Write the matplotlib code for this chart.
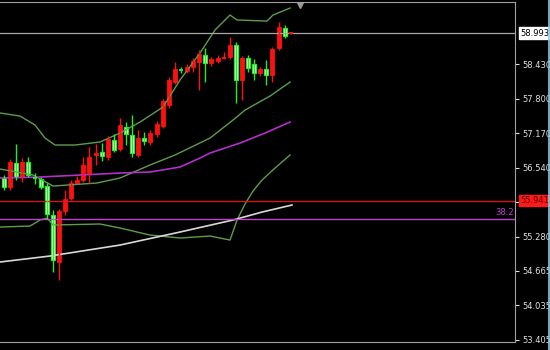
#!/usr/bin/env python3
"""MT4-style candlestick chart with Bollinger bands, two MAs and level lines."""

import matplotlib
matplotlib.use("Agg")
import matplotlib.pyplot as plt

# OHLC per bar (red = bullish, green/white = bearish)
opens = [56.354, 56.190, 56.627, 56.372, 56.646, 56.360, 56.336, 56.208, 55.680, 54.824,
         55.753, 55.990, 56.263, 56.317, 56.445, 56.773, 56.828, 56.737, 57.046, 56.882,
         57.283, 57.137, 56.773, 57.082, 57.010, 57.155, 57.301, 57.683, 58.103, 58.330,
         58.303, 58.376, 58.467, 58.594, 58.449, 58.485, 58.540, 58.558, 58.776, 58.139,
         58.540, 58.430, 58.266, 58.339, 58.230, 58.722, 59.086, 58.990]
highs = [56.408, 56.700, 56.973, 56.718, 56.737, 56.445, 56.372, 56.263, 55.771, 55.789,
         56.135, 56.317, 56.390, 56.737, 56.919, 56.973, 56.991, 57.119, 57.155, 57.447,
         57.374, 57.501, 57.228, 57.192, 57.228, 57.392, 57.793, 58.193, 58.467, 58.376,
         58.430, 58.540, 58.685, 58.722, 58.558, 58.594, 58.649, 58.922, 58.831, 58.576,
         58.594, 58.521, 58.376, 58.503, 58.740, 59.195, 59.141, 59.005]
lows = [56.135, 56.135, 56.317, 56.281, 56.372, 56.245, 56.153, 55.607, 54.642, 54.496,
        55.680, 55.953, 56.245, 56.281, 56.263, 56.590, 56.664, 56.682, 56.828, 56.846,
        56.955, 56.737, 56.737, 56.955, 56.955, 57.100, 57.265, 57.629, 58.066, 58.266,
        58.266, 58.285, 57.957, 58.103, 58.394, 58.449, 58.521, 58.521, 57.720, 57.775,
        58.285, 58.139, 58.212, 58.048, 58.103, 58.685, 58.904, 58.980]
closes = [56.190, 56.646, 56.372, 56.646, 56.408, 56.345, 56.190, 55.698, 54.860, 55.753,
          55.971, 56.263, 56.317, 56.590, 56.737, 56.810, 56.755, 57.064, 56.864, 57.319,
          57.155, 56.810, 57.082, 57.028, 57.173, 57.338, 57.756, 58.139, 58.340, 58.310,
          58.376, 58.485, 58.613, 58.449, 58.521, 58.540, 58.558, 58.776, 58.139, 58.540,
          58.358, 58.266, 58.339, 58.230, 58.704, 59.104, 58.940, 58.993]

# Bollinger bands (bar position, price)
bb_upper_x = [-0.66, 2.62, 5.08, 6.72, 8.36, 11.64, 15.74, 19.02, 22.30, 26.07,
              28.85, 32.13, 34.59, 37.05, 38.20, 43.11, 44.10, 46.89]
bb_upper = [57.538, 57.483, 57.319, 57.082, 56.955, 56.955, 57.010, 57.173, 57.374, 57.647,
            58.139, 58.631, 59.050, 59.323, 59.232, 59.213, 59.323, 59.450]
bb_mid_x = [-0.66, 4.75, 8.03, 15.25, 19.02, 23.93, 28.03, 33.77, 37.54, 39.51, 43.61, 46.89]
bb_mid = [56.518, 56.409, 56.208, 56.263, 56.354, 56.591, 56.773, 57.082, 57.410, 57.592,
          57.847, 58.102]
bb_lower_x = [-0.66, 4.26, 5.90, 7.05, 8.03, 15.74, 19.02, 23.93, 28.85, 33.77,
              37.05, 38.20, 39.51, 40.82, 42.30, 44.43, 46.89]
bb_lower = [55.461, 55.479, 55.589, 55.625, 55.498, 55.516, 55.443, 55.315, 55.261, 55.297,
            55.224, 55.589, 55.880, 56.117, 56.317, 56.536, 56.773]

# moving averages
ma_fast_x = [-0.66, 5.90, 12.46, 19.02, 23.93, 28.85, 32.13, 33.77, 38.69, 42.79, 46.89]
ma_fast = [56.354, 56.372, 56.408, 56.445, 56.463, 56.554, 56.718, 56.809, 56.991, 57.173, 57.374]
ma_slow_x = [-0.66, 7.54, 19.02, 28.85, 37.54, 42.30, 47.21]
ma_slow = [54.824, 54.933, 55.133, 55.370, 55.589, 55.734, 55.862]

# levels
bid_level = 58.993
red_level = 55.941
fib_level = 55.607
fib_label = "38.2"

y_ticks = [58.430, 57.800, 57.170, 56.540, 55.910, 55.280, 54.665, 54.035, 53.405]
# 55.910 sits under the red level box, so its label is not shown
y_tick_labels = ["58.430", "57.800", "57.170", "56.540", "", "55.280", "54.665", "54.035", "53.405"]

BULL = "#ff1010"
BEAR_EDGE = "#22ee22"
BAND = "#5c9e4a"


def main():
    fig = plt.figure(figsize=(5.5, 3.5), dpi=100, facecolor="black")
    ax = fig.add_axes([0.0, 8 / 350, 515 / 550, 340 / 350])
    ax.set_facecolor("black")

    # indicators first so candles sit on top
    ax.plot(bb_upper_x, bb_upper, color=BAND, lw=1)
    ax.plot(bb_mid_x, bb_mid, color=BAND, lw=1)
    ax.plot(bb_lower_x, bb_lower, color=BAND, lw=1)
    ax.plot(ma_fast_x, ma_fast, color="#b030c8", lw=1.2)
    ax.plot(ma_slow_x, ma_slow, color="#d8d8d8", lw=1.2)

    ax.axhline(bid_level, color="#a8a8a8", lw=0.9)
    ax.axhline(red_level, color="#d01818", lw=1)
    ax.axhline(fib_level, color="#c040d0", lw=1)

    body_w = 0.66
    for i, (o, h, l, c) in enumerate(zip(opens, highs, lows, closes)):
        bull = c >= o
        col = BULL if bull else BEAR_EDGE
        ax.vlines(i, l, h, color=col, lw=1)
        if abs(c - o) < 0.025:
            ax.hlines((o + c) / 2, i - body_w / 2, i + body_w / 2, color=col, lw=1.4)
        elif bull:
            ax.bar(i, c - o, bottom=o, width=body_w, color=BULL, edgecolor=BULL, lw=0.6)
        else:
            ax.bar(i, o - c, bottom=c, width=body_w, color="#f4fff4",
                   edgecolor=BEAR_EDGE, lw=0.9)

    # chart shift marker
    ax.plot([48.5], [59.50], marker="v", color="#9a9a9a", ms=5)

    ax.set_xlim(-0.66, 83.77)
    ax.set_ylim(53.367, 59.56)

    ax.yaxis.tick_right()
    ax.set_yticks(y_ticks)
    ax.set_yticklabels(y_tick_labels)
    ax.tick_params(axis="y", colors="#e0e0e0", labelsize=6, length=3, width=0.8, pad=2)
    ax.set_xticks([])
    for side in ("top", "right", "bottom"):
        ax.spines[side].set_color("#a0a0a0")
        ax.spines[side].set_linewidth(0.8)
    ax.spines["left"].set_visible(False)

    trans = ax.get_yaxis_transform()
    ax.text(0.997, fib_level + 0.04, fib_label, transform=trans, ha="right", va="bottom",
            color="#c040d0", fontsize=6)
    ax.text(1.01, bid_level, f"{bid_level:.3f}", transform=trans, ha="left", va="center",
            color="black", fontsize=6, zorder=5,
            bbox=dict(boxstyle="square,pad=0.15", fc="white", ec="white"))
    ax.text(1.01, red_level, f"{red_level:.3f}", transform=trans, ha="left", va="center",
            color="#5a0000", fontsize=6, zorder=5,
            bbox=dict(boxstyle="square,pad=0.15", fc="#ff1a1a", ec="#ff1a1a"))

    # light blue window edge on the right
    fig.add_artist(plt.Line2D([548.5 / 550, 548.5 / 550], [0, 1], color="#8cc8e8", lw=1.2))

    fig.savefig("out.png", dpi=100, facecolor="black")


if __name__ == "__main__":
    main()
